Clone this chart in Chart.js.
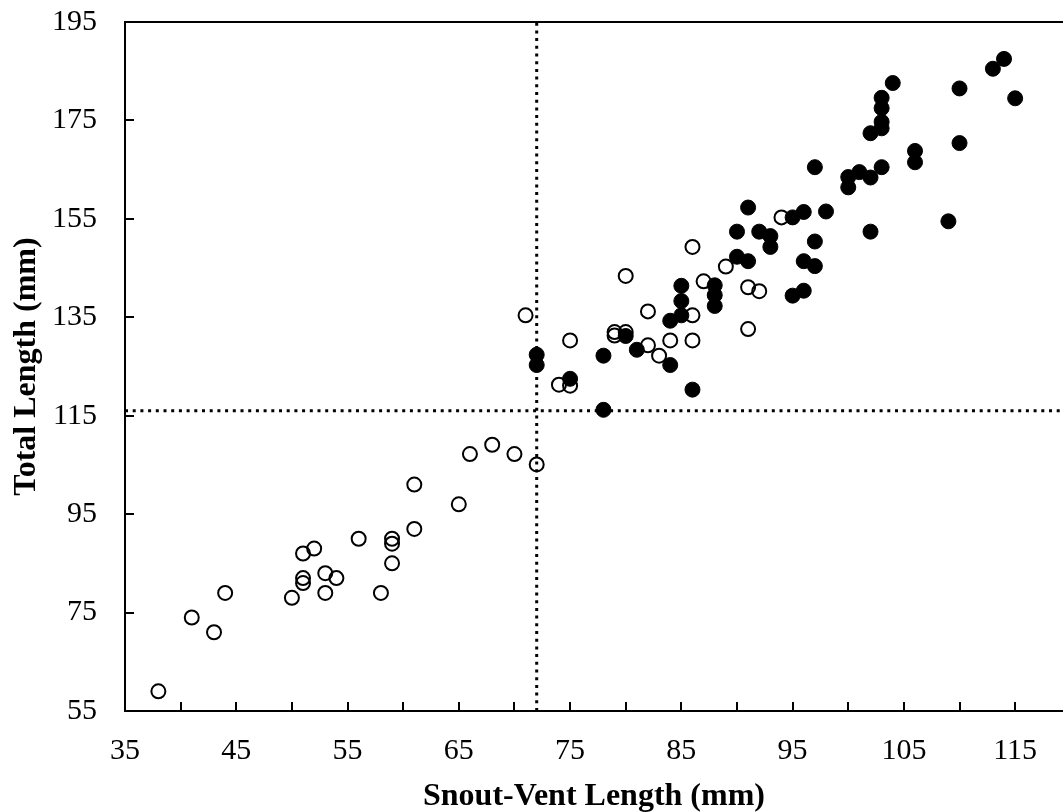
<!DOCTYPE html>
<html lang="en">
<head>
<meta charset="UTF-8" />
<title>Snout-Vent Length vs Total Length</title>
<style>
  body { margin: 0; background: #fff; }
  #wrap { width: 1063px; height: 812px; }
</style>
<script src="https://cdn.jsdelivr.net/npm/chart.js"></script>
</head>
<body>
<div id="wrap"><canvas id="svlChart" width="1063" height="812"></canvas></div>
<script>
// open circles
const openX = [38, 41, 43, 44, 50, 51, 51, 51, 52, 53, 53, 54, 56, 58, 59, 59, 59, 61, 61, 65, 66, 68, 70, 72,
               71, 74, 75, 75, 79, 79, 80, 80, 82, 82, 83, 84, 86, 86, 86, 87, 89, 91, 91, 92, 94];
const openY = [59, 74, 71, 79, 78, 87, 82, 81, 88, 83, 79, 82, 90, 79, 90, 89, 85, 92, 101, 97, 107.2, 109.1, 107.2, 105.1,
               135.4, 121.3, 121.1, 130.3, 132, 131.3, 132, 143.4, 136.2, 129.3, 127.2, 130.3, 130.3, 135.4, 149.3, 142.3, 145.3, 141.1, 132.6, 140.3, 155.3];
// filled circles
const filledX = [72, 72, 75, 78, 78, 80, 81, 84, 84, 85, 85, 85, 86, 88, 88, 88, 90, 90, 91, 91, 92, 93, 93, 95, 95, 96,
                 96, 96, 97, 97, 97, 98, 100, 100, 101, 102, 102, 102, 103, 103, 103, 103, 103, 104, 106, 106, 109, 110, 110, 113, 114, 115];
const filledY = [127.4, 125.3, 122.5, 127.2, 116.2, 131.2, 128.4, 134.3, 125.3, 141.4, 138.3, 135.4, 120.3, 141.5, 139.5, 137.3,
                 152.4, 147.3, 157.3, 146.4, 152.4, 151.5, 149.3, 155.3, 139.4, 156.4, 146.4, 140.4, 165.5, 150.4, 145.4, 156.5,
                 163.5, 161.4, 164.5, 172.4, 163.4, 152.4, 179.6, 177.5, 174.7, 173.4, 165.5, 182.6, 168.8, 166.5, 154.5,
                 181.5, 170.4, 185.5, 187.5, 179.5];

const xRange = [35, 119.3];
const yRange = [55, 195];
const xTickLabels = [35, 45, 55, 65, 75, 85, 95, 105, 115];
const xTickMarks = [40, 45, 50, 55, 60, 65, 70, 75, 80, 85, 90, 95, 100, 105, 110, 115];
const yTickLabels = [55, 75, 95, 115, 135, 155, 175, 195];
const yTickMarks = [75, 95, 115, 135, 155, 175];
const refX = 72;   // vertical dotted line
const refY = 116;  // horizontal dotted line

const serif = "'Liberation Serif', 'Times New Roman', serif";

function toPoints(xs, ys) {
    return xs.map((x, i) => ({ x: x, y: ys[i] }));
}

// ticks point inward, plus the top frame line
const innerTicks = {
    id: 'innerTicks',
    afterDraw(chart) {
        const { ctx, chartArea: a, scales: { x, y } } = chart;
        ctx.save();
        ctx.strokeStyle = '#000';
        ctx.lineWidth = 2;
        ctx.beginPath();
        xTickMarks.forEach(v => {
            const px = Math.round(x.getPixelForValue(v));
            ctx.moveTo(px, a.bottom);
            ctx.lineTo(px, a.bottom - 9);
        });
        yTickMarks.forEach(v => {
            const py = Math.round(y.getPixelForValue(v));
            ctx.moveTo(a.left, py);
            ctx.lineTo(a.left + 9, py);
        });
        ctx.moveTo(a.left - 1, a.top);
        ctx.lineTo(a.right, a.top);
        ctx.stroke();
        ctx.restore();
    }
};

const refLine = {
    showLine: true,
    pointRadius: 0,
    borderColor: '#000',
    borderWidth: 3,
    borderDash: [3, 4.7],
    fill: false
};

new Chart(document.getElementById('svlChart').getContext('2d'), {
    type: 'scatter',
    data: {
        datasets: [
            { label: 'filled', data: toPoints(filledX, filledY), pointRadius: 7.5, pointBackgroundColor: '#000', pointBorderColor: '#000', pointBorderWidth: 1 },
            { label: 'open', data: toPoints(openX, openY), pointRadius: 7, pointBackgroundColor: 'rgba(0,0,0,0)', pointBorderColor: '#000', pointBorderWidth: 2 },
            Object.assign({ label: 'v', data: [{ x: refX, y: yRange[0] }, { x: refX, y: yRange[1] }] }, refLine),
            Object.assign({ label: 'h', data: [{ x: xRange[0], y: refY }, { x: xRange[1], y: refY }] }, refLine)
        ]
    },
    options: {
        responsive: false,
        animation: false,
        layout: { autoPadding: false, padding: { top: 22, right: 0, left: 0, bottom: 0 } },
        plugins: { legend: { display: false }, tooltip: { enabled: false } },
        scales: {
            x: {
                type: 'linear',
                min: xRange[0],
                max: xRange[1],
                afterBuildTicks: axis => { axis.ticks = xTickLabels.map(v => ({ value: v })); },
                afterFit: s => { s.height = 101; s.paddingLeft = 0; s.paddingRight = 0; },
                grid: { drawOnChartArea: false, drawTicks: false },
                border: { display: true, color: '#000', width: 2 },
                ticks: { color: '#000', padding: 22, maxRotation: 0, font: { family: serif, size: 30 } },
                title: { display: true, text: 'Snout-Vent Length (mm)', color: '#000', padding: { top: 0, bottom: -1 },
                         font: { family: serif, size: 32, weight: 'bold', lineHeight: 1 } }
            },
            y: {
                type: 'linear',
                min: yRange[0],
                max: yRange[1],
                afterBuildTicks: axis => { axis.ticks = yTickLabels.map(v => ({ value: v })); },
                afterFit: s => { s.width = 125; s.paddingTop = 0; s.paddingBottom = 0; },
                grid: { drawOnChartArea: false, drawTicks: false },
                border: { display: true, color: '#000', width: 2 },
                ticks: { color: '#000', padding: 28, font: { family: serif, size: 30 } },
                title: { display: true, text: 'Total Length (mm)', color: '#000', padding: { top: 8, bottom: 0 },
                         font: { family: serif, size: 32, weight: 'bold' } }
            }
        }
    },
    plugins: [innerTicks]
});
</script>
</body>
</html>
